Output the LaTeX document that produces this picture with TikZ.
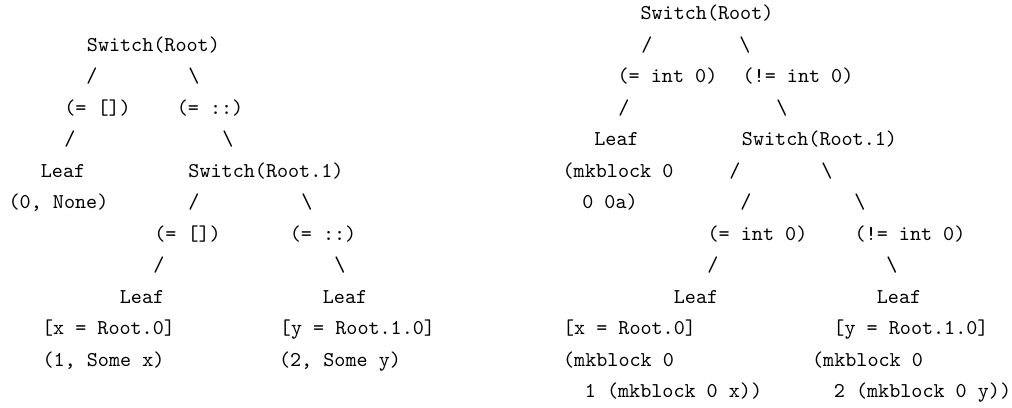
\documentclass[tikz,border=0pt]{standalone}
\usepackage{fontspec}
\newfontfamily\codefont{lmmono10-regular}[Extension=.otf]
\begin{document}
\begin{tikzpicture}[x=1pt,y=-1pt,
  txt/.style={font=\codefont\fontsize{21.1}{25}\selectfont, inner sep=0pt, anchor=base}]
\useasboundingbox[fill=white] (0,0) rectangle (1012,407);
% ---------- left tree ----------
\node[txt] (lroot) at (153.4,{19.5+31.5*1}) {Switch(Root)};
\node[txt] (ls1) at (92,{19.5+31.5*2}) {/};
\node[txt] (lb1) at (194,{19.5+31.5*2}) {\symbol{92}};
\node[txt] (lc1) at (97.5,{19.5+31.5*3}) {(= [])};
\node[txt] (lc2) at (210,{19.5+31.5*3}) {(= ::)};
\node[txt] (ls2) at (70,{19.5+31.5*4}) {/};
\node[txt] (lb2) at (228,{19.5+31.5*4}) {\symbol{92}};
\node[txt] (lleaf0) at (63,{19.5+31.5*5}) {Leaf};
\node[txt] (lsw1) at (266,{19.5+31.5*5}) {Switch(Root.1)};
\node[txt] (lleaf0v) at (58.5,{19.5+31.5*6}) {(0, None)};
\node[txt] (ls3) at (194,{19.5+31.5*6}) {/};
\node[txt] (lb3) at (307,{19.5+31.5*6}) {\symbol{92}};
\node[txt] (lc3) at (187.5,{19.5+31.5*7}) {(= [])};
\node[txt] (lc4) at (323,{19.5+31.5*7}) {(= ::)};
\node[txt] (ls4) at (159,{19.5+31.5*8}) {/};
\node[txt] (lb4) at (340,{19.5+31.5*8}) {\symbol{92}};
\node[txt] (lleaf1) at (142,{19.5+31.5*9}) {Leaf};
\node[txt] (lleaf2) at (345,{19.5+31.5*9}) {Leaf};
\node[txt] (lleaf1b) at (108.5,{19.5+31.5*10}) {[x = Root.0]};
\node[txt] (lleaf2b) at (357.5,{19.5+31.5*10}) {[y = Root.1.0]};
\node[txt] (lleaf1v) at (103.5,{19.5+31.5*11}) {(1, Some x)};
\node[txt] (lleaf2v) at (340,{19.5+31.5*11}) {(2, Some y)};
% ---------- right tree ----------
\node[txt] (rroot) at (707,{19.5+31.5*0}) {Switch(Root)};
\node[txt] (rs1) at (647,{19.5+31.5*1}) {/};
\node[txt] (rb1) at (745,{19.5+31.5*1}) {\symbol{92}};
\node[txt] (rc1) at (667.5,{19.5+31.5*2}) {(= int 0)};
\node[txt] (rc2) at (798,{19.5+31.5*2}) {(!= int 0)};
\node[txt] (rs2) at (624,{19.5+31.5*3}) {/};
\node[txt] (rb2) at (782,{19.5+31.5*3}) {\symbol{92}};
\node[txt] (rleaf0) at (616.5,{19.5+31.5*4}) {Leaf};
\node[txt] (rsw1) at (819.5,{19.5+31.5*4}) {Switch(Root.1)};
\node[txt] (rleaf0v) at (618,{19.5+31.5*5}) {(mkblock 0};
\node[txt] (rs3) at (735,{19.5+31.5*5}) {/};
\node[txt] (rb3) at (827,{19.5+31.5*5}) {\symbol{92}};
\node[txt] (rleaf0w) at (610,{19.5+31.5*6}) {0 0a)};
\node[txt] (rs4) at (746,{19.5+31.5*6}) {/};
\node[txt] (rb4) at (860,{19.5+31.5*6}) {\symbol{92}};
\node[txt] (rc3) at (757.5,{19.5+31.5*7}) {(= int 0)};
\node[txt] (rc4) at (910,{19.5+31.5*7}) {(!= int 0)};
\node[txt] (rs5) at (713,{19.5+31.5*8}) {/};
\node[txt] (rb5) at (892,{19.5+31.5*8}) {\symbol{92}};
\node[txt] (rleaf1) at (696,{19.5+31.5*9}) {Leaf};
\node[txt] (rleaf2) at (899,{19.5+31.5*9}) {Leaf};
\node[txt] (rleaf1b) at (629.5,{19.5+31.5*10}) {[x = Root.0]};
\node[txt] (rleaf2b) at (911,{19.5+31.5*10}) {[y = Root.1.0]};
\node[txt] (rleaf1v) at (618.5,{19.5+31.5*11}) {(mkblock 0};
\node[txt] (rleaf2v) at (867.5,{19.5+31.5*11}) {(mkblock 0};
\node[txt] (rleaf1w) at (673.5,{19.5+31.5*12}) {1 (mkblock 0 x))};
\node[txt] (rleaf2w) at (922.5,{19.5+31.5*12}) {2 (mkblock 0 y))};
\end{tikzpicture}
\end{document}
